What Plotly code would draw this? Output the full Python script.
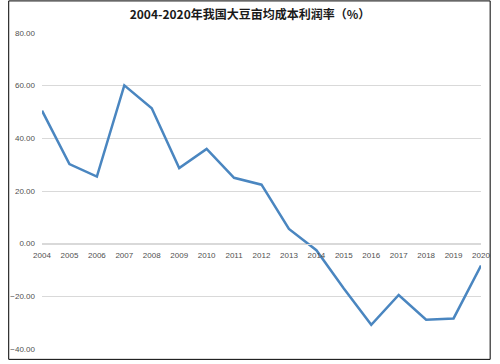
import plotly.graph_objects as go

years = ["2004", "2005", "2006", "2007", "2008", "2009", "2010", "2011", "2012",
         "2013", "2014", "2015", "2016", "2017", "2018", "2019", "2020"]
profit_rate = [50.5, 30.2, 25.5, 60.1, 51.4, 28.7, 36.0, 25.0, 22.4,
               5.6, -2.5, -17.0, -30.8, -19.5, -28.9, -28.4, -8.3]
y_ticks = [-40, -20, 0, 20, 40, 60, 80]

W, H = 500, 364
ML, MR, MT, MB = 35, 10, 33, 11
PW, PH = W - ML - MR, H - MT - MB


def px2paper_x(p):
    return (p - ML) / PW


def px2paper_y(p):
    return (H - MB - p) / PH


fig = go.Figure()
fig.add_trace(go.Scatter(
    x=years, y=profit_rate, mode="lines",
    line=dict(color="#4a86c0", width=2.5),
    hoverinfo="x+y",
))

fig.update_layout(
    width=W, height=H,
    margin=dict(l=ML, r=MR, t=MT, b=MB),
    paper_bgcolor="white", plot_bgcolor="white",
    showlegend=False,
    title=dict(
        text="<b>2004-2020年我国大豆亩均成本利润率（%）</b>",
        x=0.5, xanchor="center", y=1 - 15 / H, yanchor="middle",
        font=dict(family="Noto Sans CJK SC, sans-serif", size=12, color="#1a1a1a"),
    ),
    xaxis=dict(
        type="category",
        anchor="free", position=40 / 120,
        showgrid=False, zeroline=False,
        showline=True, linecolor="#d9d9d9", linewidth=1,
        ticks="", ticklabelstandoff=4,
        tickfont=dict(family="Liberation Sans, sans-serif", size=8, color="#505050"),
    ),
    yaxis=dict(
        range=[-40, 80], tickvals=y_ticks, tickformat=".2f",
        showgrid=True, gridcolor="#d9d9d9", gridwidth=1,
        zeroline=False, showline=False, ticks="",
        ticklabelstandoff=6,
        tickfont=dict(family="Liberation Sans, sans-serif", size=8, color="#505050"),
    ),
    shapes=[dict(
        type="rect", xref="paper", yref="paper",
        x0=px2paper_x(0.5), x1=px2paper_x(W - 0.5),
        y0=px2paper_y(H - 0.5), y1=px2paper_y(0.5),
        line=dict(color="#000000", width=1), fillcolor="rgba(0,0,0,0)",
        layer="above",
    )],
)

fig.write_html(
    "out.html",
    config={"displayModeBar": False},
    post_script=(
        "document.documentElement.style.margin='0';"
        "document.documentElement.style.overflow='hidden';"
        "document.body.style.margin='0';document.body.style.padding='0';"
        "document.body.style.overflow='hidden';"
    ),
)
